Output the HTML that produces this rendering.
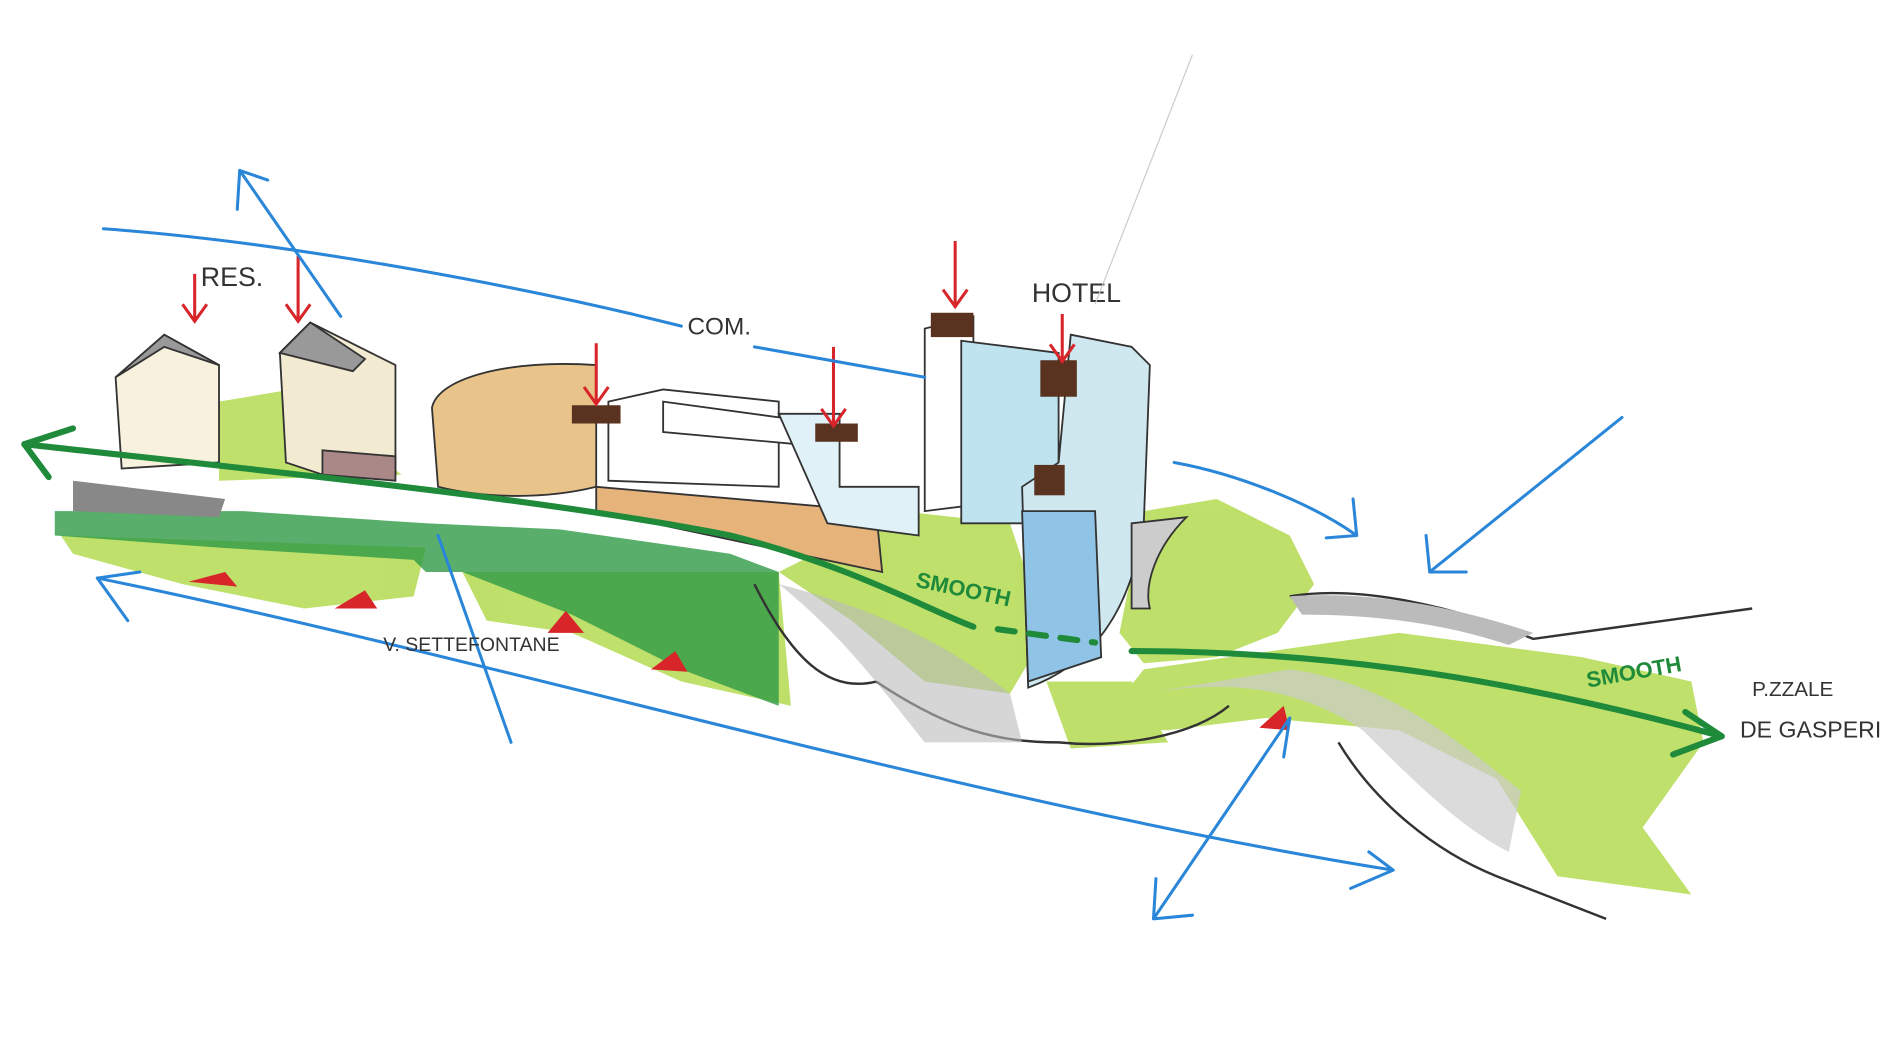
<!DOCTYPE html>
<html><head><meta charset="utf-8"><style>
html,body{margin:0;padding:0;background:#fff;width:1886px;height:1060px;overflow:hidden}
svg{display:block}
text{font-family:"Liberation Sans",sans-serif}
</style></head><body>
<svg width="1886" height="1060" viewBox="0 0 1550 871" preserveAspectRatio="none" xmlns="http://www.w3.org/2000/svg">
<rect width="1550" height="871" fill="#fff"/>
<g fill="#a9d63a" opacity="0.75">
<path d="M180,330 L240,320 L330,390 L180,395 Z"/>
<path d="M640,470 L740,420 L830,430 L860,520 L830,570 L760,560 L700,510 Z"/>
<path d="M940,420 L1000,410 L1060,440 L1080,480 L1050,520 L1000,540 L940,545 L920,520 Z"/>
<path d="M940,550 L1150,520 L1300,540 L1390,560 L1400,610 L1350,680 L1390,735 L1280,720 L1230,640 L1150,600 L1040,590 L960,600 L900,600 Z"/>
<path d="M380,470 L640,470 L650,580 L560,560 L470,520 L400,510 Z"/>
<path d="M50,440 L350,450 L340,490 L250,500 L150,480 L60,455 Z"/>
<path d="M860,560 L930,560 L960,610 L880,615 Z"/>
</g>
<path d="M45,420 L200,420 L350,430 L460,435 L600,455 L640,470 L640,580 L560,550 L470,505 L380,470 L350,470 L340,460 L180,450 L45,440 Z" fill="#2e9a45" opacity="0.8"/>
<path d="M60,395 L185,410 L180,425 L60,420 Z" fill="#888"/>
<g stroke="#333" stroke-width="2" fill="none">
<path d="M720,560 C780,600 820,610 870,610 C920,615 980,605 1010,580"/>
<path d="M620,480 C650,540 680,570 720,560"/>
<path d="M1060,490 C1120,480 1200,500 1260,525 L1440,500"/>
<path d="M1100,610 C1130,660 1180,700 1230,720 L1320,755"/>
</g>
<path d="M640,480 C690,520 720,560 760,610 L840,610 L830,570 C780,530 720,500 640,480Z" fill="#bbb" opacity="0.6"/>
<path d="M940,570 C1000,560 1060,560 1120,600 C1160,640 1200,680 1240,700 L1250,650 C1200,610 1140,560 1060,550 Z" fill="#ccc" opacity="0.7"/>
<path d="M1060,490 C1130,485 1200,500 1260,520 L1240,530 C1180,510 1120,505 1070,505Z" fill="#bbb"/>
<g stroke="#333" stroke-width="1.5">
<path d="M95,310 L135,275 L180,300 L180,380 L100,385 Z" fill="#f8f1dd"/>
<path d="M95,310 L135,275 L180,300 L135,285 Z" fill="#999"/>
<path d="M230,290 L255,265 L305,290 L325,300 L325,390 L265,390 L235,380 Z" fill="#f3ead2"/>
<path d="M230,290 L255,265 L300,295 L290,305 Z" fill="#999"/>
<path d="M265,370 L325,375 L325,395 L265,390 Z" fill="#a88"/>
<path d="M355,335 C360,310 420,295 490,300 L490,400 C450,410 400,410 360,400 Z" fill="#e8c48a"/>
<path d="M490,400 L720,420 L725,470 L490,420 Z" fill="#e6b37a"/>
<path d="M500,330 L545,320 L640,330 L640,400 L500,395 Z" fill="#fff"/>
<path d="M545,330 L655,345 L655,365 L545,355 Z" fill="#fff"/>
<path d="M640,340 L690,340 L690,400 L755,400 L755,440 L680,430 Z" fill="#e0f2f8"/>
<path d="M760,270 L800,260 L800,415 L760,420 Z" fill="#fff"/>
<path d="M790,280 L870,290 L870,430 L790,430 Z" fill="#bfe3ef"/>
<path d="M880,275 L930,285 L945,300 L940,430 C930,500 900,545 845,565 L840,400 L870,380 Z" fill="#cfe8f0"/>
<path d="M840,420 L900,420 L905,540 L845,560 Z" fill="#8fc4e6"/>
<path d="M930,430 L975,425 C950,450 940,480 945,500 L930,500 Z" fill="#ccc"/>
</g>
<g fill="#5a3320">
<rect x="470" y="333" width="40" height="15"/>
<rect x="670" y="348" width="35" height="15"/>
<rect x="765" y="257" width="35" height="20"/>
<rect x="855" y="296" width="30" height="30"/>
<rect x="850" y="382" width="25" height="25"/>
</g>
<g stroke="#d7252a" stroke-width="2.5" fill="none">
<path d="M160,225 L160,262 M150,250 L160,264 L170,250"/>
<path d="M245,210 L245,262 M235,250 L245,264 L255,250"/>
<path d="M490,282 L490,330 M480,318 L490,332 L500,318"/>
<path d="M685,285 L685,348 M675,336 L685,350 L695,336"/>
<path d="M785,198 L785,250 M775,238 L785,252 L795,238"/>
<path d="M873,258 L873,295 M863,283 L873,297 L883,283"/>
</g>
<g fill="#d7252a">
<path d="M155,478 L185,470 L195,482Z"/><path d="M275,500 L300,485 L310,500Z"/>
<path d="M450,520 L465,502 L480,520Z"/><path d="M535,550 L555,535 L565,552Z"/>
<path d="M1035,598 L1055,580 L1060,600Z"/>
</g>
<g stroke="#2a86d8" stroke-width="2.5" fill="none" stroke-linecap="round">
<path d="M85,188 C250,200 450,240 560,268"/>
<path d="M620,285 L760,310"/>
<path d="M280,260 L197,140 M197,140 L195,172 M197,140 L220,148"/>
<path d="M80,475 C400,540 800,660 1145,715 M1145,715 L1125,700 M1145,715 L1110,730"/>
<path d="M80,475 L105,510 M80,475 L115,470"/>
<path d="M360,440 L420,610"/>
<path d="M965,380 C1020,390 1080,415 1115,440 M1115,440 L1112,410 M1115,440 L1090,442"/>
<path d="M1333,343 L1175,470 M1175,470 L1172,440 M1175,470 L1205,470"/>
<path d="M1060,590 L948,755 M1060,590 L1055,622 M948,755 L950,722 M948,755 L980,752"/>
</g>
<g stroke="#1f8a3a" stroke-width="5" fill="none" stroke-linecap="round">
<path d="M20,365 C200,385 450,410 600,440 C700,465 760,500 800,515"/>
<path d="M820,517 L900,528" stroke-dasharray="14 12"/>
<path d="M930,535 C1100,535 1250,560 1415,605"/>
<path d="M20,365 L60,352 M20,365 L40,392"/>
<path d="M1415,605 L1385,585 M1415,605 L1375,620"/>
</g>
<g fill="#333" font-size="22">
<text x="165" y="235">RES.</text>
<text x="565" y="275" font-size="20">COM.</text>
<text x="848" y="248">HOTEL</text>
<text x="315" y="535" font-size="16">V. SETTEFONTANE</text>
<text x="1440" y="572" font-size="17">P.ZZALE</text>
<text x="1430" y="606" font-size="19">DE GASPERI</text>
</g>
<g fill="#1f8a3a" font-size="18" font-weight="bold">
<text x="752" y="482" transform="rotate(12 752 482)">SMOOTH</text>
<text x="1305" y="565" transform="rotate(-10 1305 565)">SMOOTH</text>
</g>
<path d="M980,45 L900,250" stroke="#ccc" stroke-width="1"/>
</svg>
</body></html>
